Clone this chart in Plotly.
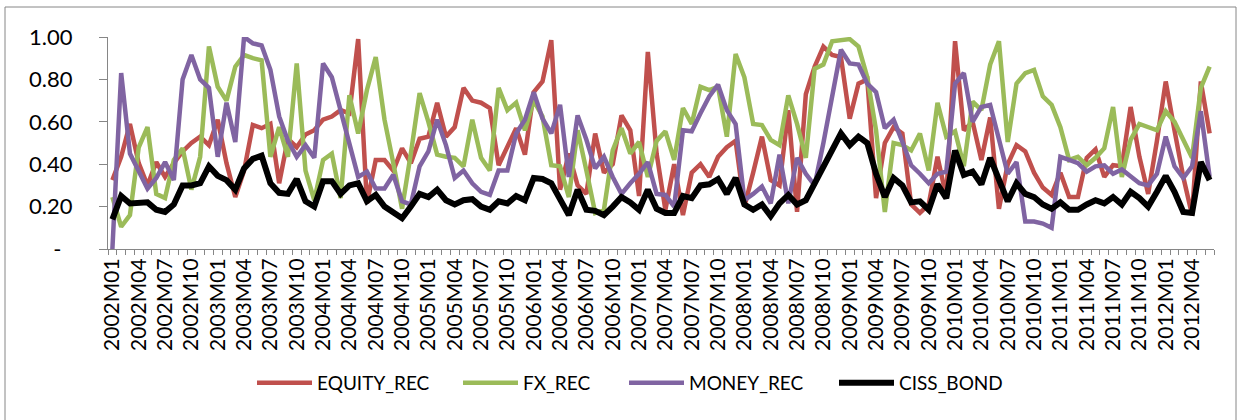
import plotly.graph_objects as go

# ---- data (monthly, 2002M01 .. 2012M06) ----
months = [f"{y}M{m:02d}" for y in range(2002, 2013) for m in range(1, 13)][:126]

equity_rec = [
    0.325, 0.435, 0.59, 0.405, 0.30, 0.41, 0.34, 0.405, 0.46, 0.50, 0.53, 0.49,
    0.61, 0.405, 0.245, 0.37, 0.585, 0.57, 0.59, 0.31, 0.52, 0.48, 0.54, 0.56,
    0.61, 0.625, 0.655, 0.64, 0.99, 0.215, 0.42, 0.42, 0.37, 0.475, 0.405, 0.52,
    0.53, 0.69, 0.53, 0.575, 0.76, 0.70, 0.69, 0.665, 0.395, 0.48, 0.57, 0.445,
    0.74, 0.79, 0.985, 0.28, 0.45, 0.30, 0.26, 0.545, 0.36, 0.40, 0.63, 0.56,
    0.25, 0.93, 0.45, 0.185, 0.40, 0.16, 0.36, 0.40, 0.34, 0.435, 0.48, 0.51,
    0.20, 0.36, 0.53, 0.325, 0.30, 0.655, 0.175, 0.73, 0.86, 0.955, 0.915, 0.905,
    0.615, 0.78, 0.80, 0.24, 0.50, 0.575, 0.545, 0.21, 0.17, 0.21, 0.435, 0.245,
    0.98, 0.56, 0.60, 0.42, 0.62, 0.19, 0.40, 0.49, 0.46, 0.36, 0.29, 0.255,
    0.36, 0.245, 0.245, 0.43, 0.47, 0.34, 0.395, 0.39, 0.67, 0.435, 0.26, 0.51,
    0.79, 0.56, 0.34, 0.16, 0.79, 0.545,
]

fx_rec = [
    0.245, 0.105, 0.16, 0.48, 0.575, 0.26, 0.24, 0.42, 0.475, 0.28, 0.435, 0.955,
    0.765, 0.70, 0.86, 0.915, 0.90, 0.89, 0.435, 0.575, 0.435, 0.875, 0.37, 0.23,
    0.42, 0.45, 0.24, 0.725, 0.545, 0.75, 0.905, 0.61, 0.405, 0.19, 0.45, 0.735,
    0.60, 0.445, 0.435, 0.43, 0.39, 0.61, 0.43, 0.37, 0.76, 0.655, 0.69, 0.56,
    0.70, 0.625, 0.395, 0.39, 0.245, 0.56, 0.37, 0.17, 0.185, 0.465, 0.57, 0.45,
    0.505, 0.34, 0.51, 0.555, 0.42, 0.665, 0.59, 0.765, 0.75, 0.765, 0.53, 0.92,
    0.81, 0.59, 0.585, 0.515, 0.49, 0.725, 0.59, 0.43, 0.85, 0.87, 0.98, 0.985,
    0.99, 0.955, 0.81, 0.56, 0.175, 0.50, 0.49, 0.465, 0.545, 0.37, 0.69, 0.53,
    0.555, 0.39, 0.695, 0.655, 0.87, 0.98, 0.505, 0.78, 0.83, 0.845, 0.72, 0.68,
    0.575, 0.42, 0.435, 0.395, 0.43, 0.475, 0.67, 0.34, 0.515, 0.59, 0.575, 0.56,
    0.65, 0.60, 0.515, 0.43, 0.76, 0.86,
]

money_rec = [
    0.0, 0.83, 0.45, 0.37, 0.285, 0.335, 0.41, 0.325, 0.80, 0.915, 0.80, 0.76,
    0.435, 0.69, 0.505, 1.0, 0.97, 0.96, 0.845, 0.625, 0.51, 0.435, 0.49, 0.43,
    0.875, 0.81, 0.655, 0.50, 0.34, 0.365, 0.285, 0.285, 0.35, 0.225, 0.21, 0.39,
    0.46, 0.61, 0.49, 0.335, 0.37, 0.31, 0.27, 0.255, 0.37, 0.37, 0.545, 0.61,
    0.74, 0.615, 0.545, 0.68, 0.34, 0.63, 0.515, 0.38, 0.435, 0.34, 0.26, 0.31,
    0.355, 0.41, 0.26, 0.255, 0.20, 0.56, 0.555, 0.64, 0.72, 0.775, 0.655, 0.59,
    0.23, 0.26, 0.295, 0.215, 0.445, 0.215, 0.43, 0.355, 0.30, 0.50, 0.735, 0.94,
    0.875, 0.87, 0.78, 0.74, 0.57, 0.61, 0.505, 0.395, 0.355, 0.31, 0.355, 0.365,
    0.78, 0.83, 0.60, 0.67, 0.68, 0.515, 0.355, 0.41, 0.13, 0.13, 0.12, 0.10,
    0.435, 0.42, 0.405, 0.365, 0.39, 0.395, 0.355, 0.375, 0.34, 0.31, 0.30, 0.355,
    0.53, 0.39, 0.335, 0.39, 0.65, 0.34,
]

ciss_bond = [
    0.14, 0.25, 0.215, 0.22, 0.22, 0.185, 0.175, 0.21, 0.30, 0.30, 0.31, 0.39,
    0.345, 0.325, 0.28, 0.38, 0.425, 0.44, 0.31, 0.265, 0.26, 0.33, 0.225, 0.20,
    0.32, 0.32, 0.26, 0.30, 0.31, 0.225, 0.255, 0.20, 0.17, 0.145, 0.20, 0.26,
    0.245, 0.28, 0.23, 0.21, 0.23, 0.235, 0.20, 0.185, 0.225, 0.215, 0.25, 0.23,
    0.335, 0.33, 0.31, 0.24, 0.16, 0.28, 0.185, 0.18, 0.16, 0.20, 0.245, 0.22,
    0.185, 0.28, 0.19, 0.17, 0.17, 0.25, 0.24, 0.30, 0.305, 0.33, 0.26, 0.335,
    0.21, 0.185, 0.21, 0.155, 0.215, 0.255, 0.21, 0.23, 0.31, 0.39, 0.47, 0.545,
    0.49, 0.53, 0.50, 0.355, 0.245, 0.335, 0.30, 0.22, 0.225, 0.185, 0.305, 0.24,
    0.465, 0.35, 0.365, 0.305, 0.43, 0.325, 0.225, 0.31, 0.26, 0.245, 0.21, 0.19,
    0.22, 0.185, 0.185, 0.21, 0.23, 0.215, 0.245, 0.21, 0.27, 0.24, 0.20, 0.27,
    0.345, 0.27, 0.175, 0.17, 0.41, 0.325,
]

x_ticktext = [m if i % 3 == 0 else "" for i, m in enumerate(months)]
y_tickvals = [0, 0.2, 0.4, 0.6, 0.8, 1.0]
y_ticktext = ["-\u00a0\u00a0", "0.20", "0.40", "0.60", "0.80", "1.00"]

W, H = 1243, 420
ml, mr, mt, mb = 108, 29, 37, 171
pw, ph = W - ml - mr, H - mt - mb


def px_to_paper_x(px):
    return (px - ml) / pw


def px_to_paper_y(py):
    return (H - mb - py) / ph


# name, values, colour, width, legend id, legend line start (px)
series = [
    ("EQUITY_REC", equity_rec, "#C0504D", 4.5, "legend", 254),
    ("FX_REC", fx_rec, "#9BBB59", 4.5, "legend2", 460),
    ("MONEY_REC", money_rec, "#8064A2", 4.5, "legend3", 626),
    ("CISS_BOND", ciss_bond, "#000000", 6, "legend4", 836),
]

fig = go.Figure()
legend_layouts = {}
for name, vals, color, w, lg, lx in series:
    fig.add_trace(go.Scatter(x=months, y=vals, mode="lines", name=name,
                             legend=lg, line=dict(color=color, width=w)))
    legend_layouts[lg] = dict(orientation="h", x=px_to_paper_x(lx - 2), xanchor="left",
                              y=px_to_paper_y(383), yanchor="middle",
                              font=dict(size=19), itemwidth=55,
                              bgcolor="rgba(0,0,0,0)", borderwidth=0)

fig.update_layout(
    width=W, height=H,
    margin=dict(l=ml, r=mr, t=mt, b=mb, pad=0),
    paper_bgcolor="white", plot_bgcolor="white",
    font=dict(family="Lato, Carlito, 'Open Sans', sans-serif", color="#000000", size=19),
    showlegend=True,
    xaxis=dict(type="category", range=[-0.5, 125.5], tickmode="array",
               tickvals=months, ticktext=x_ticktext, tickangle=-90,
               ticks="outside", tickson="boundaries", ticklen=5,
               tickcolor="#868686", showline=True, linecolor="#868686",
               linewidth=1, showgrid=False, zeroline=False, automargin=False,
               tickfont=dict(size=21)),
    yaxis=dict(range=[0, 1.0], tickmode="array", tickvals=y_tickvals,
               ticktext=y_ticktext, ticks="outside", ticklen=8,
               tickcolor="#868686", showline=True, linecolor="#868686",
               linewidth=1, showgrid=False, zeroline=False, automargin=False,
               tickfont=dict(size=22), ticklabelstandoff=22),
    shapes=[dict(type="rect", xref="paper", yref="paper",
                 x0=px_to_paper_x(5), x1=px_to_paper_x(1236),
                 y0=px_to_paper_y(421), y1=px_to_paper_y(7),
                 line=dict(color="#868686", width=1), fillcolor="rgba(0,0,0,0)",
                 layer="below")],
    **legend_layouts,
)

fig.write_html("out.html", config={"displayModeBar": False},
               post_script="document.body.style.margin='0';document.body.style.padding='0';")
